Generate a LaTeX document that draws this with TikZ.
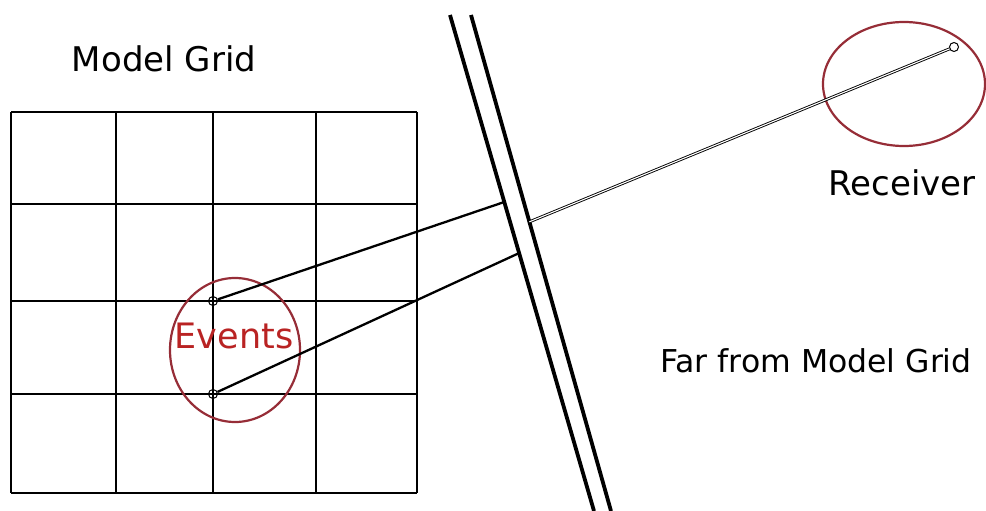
\documentclass[tikz,border=0pt]{standalone}
\usepackage{fontspec}
\setmainfont{DejaVu Sans}
\usepackage{tikz}
\usetikzlibrary{calc}
\definecolor{ringred}{RGB}{150,45,55}
\definecolor{textred}{RGB}{185,35,35}
\begin{document}
\begin{tikzpicture}[x=1pt,y=-1pt,
  label/.style={font=\fontsize{34}{40}\selectfont,anchor=base,inner sep=0pt},
  gridline/.style={line width=1.8pt},
  wall/.style={line width=3.8pt},
  ray/.style={line width=2.3pt},
  ring/.style={ringred,line width=2.2pt},
  spot/.style={circle,draw,line width=1pt,minimum size=9pt,inner sep=0pt}]
\useasboundingbox (0,0) rectangle (986,511);
% --- the model grid ---
\foreach \x in {11,116,213,316,417} \draw[gridline] (\x,112) -- (\x,493);
\foreach \y in {112,204,301,394,493} \draw[gridline] (11,\y) -- (417,\y);
\node[label] (gridlbl) at (164,72) {Model Grid};
% --- the events ---
\node[spot] (evA) at (213,301) {};
\node[spot] (evB) at (213,394) {};
\draw[ring] (235,350) ellipse (65 and 72);
\node[label,textred,font=\fontsize{35}{40}\selectfont] (evlbl) at (234,348) {Events};
% --- the double wall ---
\coordinate (wallLtop) at (450,15);
\coordinate (wallLbot) at (594,511);
\coordinate (wallRtop) at (471,15);
\coordinate (wallRbot) at (611,511);
\draw[wall] (wallLtop) -- (wallLbot);
\draw[wall] (wallRtop) -- (wallRbot);
\coordinate (hitA) at ($(wallLtop)!0.377!(wallLbot)$);
\coordinate (hitB) at ($(wallLtop)!0.480!(wallLbot)$);
\coordinate (exit) at ($(wallRtop)!0.417!(wallRbot)$);
\draw[ray] (evA) -- (hitA);
\draw[ray] (evB) -- (hitB);
% --- the receiver ---
\node[spot] (rcv) at (954,47) {};
\draw[ring] (904,84) ellipse (81 and 62);
\draw[double,line width=0.9pt,double distance=1.1pt] (exit) -- (rcv);
\node[label] (rcvlbl) at (902,195) {Receiver};
\node[label,font=\fontsize{31.5}{37}\selectfont] (farlbl) at (816,372) {Far from Model Grid};
\end{tikzpicture}
\end{document}
